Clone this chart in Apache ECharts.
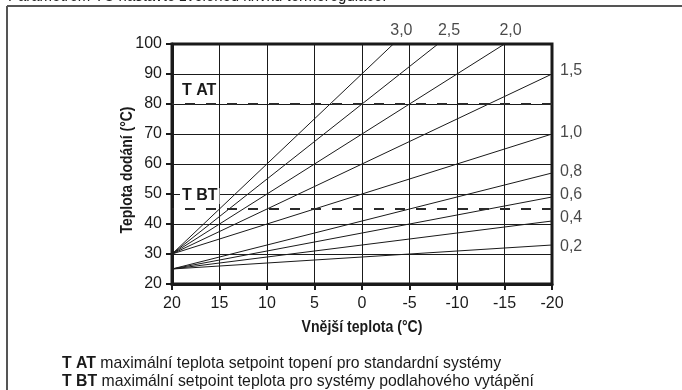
<!DOCTYPE html>
<html>
<head>
<meta charset="utf-8">
<script src="https://cdn.jsdelivr.net/npm/echarts@6/dist/echarts.min.js"></script>
<style>
html,body{margin:0;padding:0;background:#fff;}
#c{width:682px;height:390px;}
</style>
</head>
<body>
<div id="c"></div>
<script>
// ---- data ----
var xTicks = [20, 15, 10, 5, 0, -5, -10, -15, -20];
var yTicks = [20, 30, 40, 50, 60, 70, 80, 90, 100];
var curveNames = ['3,0', '2,5', '2,0', '1,5', '1,0', '0,8', '0,6', '0,4', '0,2'];
var curve30 = [[20, 30], [-3.3, 100]];
var curve25 = [[20, 30], [-8, 100]];
var curve20 = [[20, 30], [-15, 100]];
var curve15 = [[20, 30], [-20, 90]];
var curve10 = [[20, 30], [-20, 70]];
var curve08 = [[20, 25], [-20, 57]];
var curve06 = [[20, 25], [-20, 49]];
var curve04 = [[20, 25], [-20, 41]];
var curve02 = [[20, 25], [-20, 33]];
var tAT = 80;
var tBT = 45;
var titleText = 'Parametrem TC nastavte zvolenou křivku termoregulace.';
var xName = 'Vnější teplota (°C)';
var yName = 'Teplota dodání (°C)';
var noteAT = ['T AT', ' maximální teplota setpoint topení pro standardní systémy'];
var noteBT = ['T BT', ' maximální setpoint teplota pro systémy podlahového vytápění'];

var FONT = "'Liberation Sans', Arial, sans-serif";
var INK = '#1a1a1a';

var curves = [curve30, curve25, curve20, curve15, curve10, curve08, curve06, curve04, curve02];
// label nudges (top-exiting curves get their label above the frame)
var labelOffsets = [[8, 0], [11, 0], [6, 0], [0, -3], [0, -1], [0, -1], [0, -2], [0, -3], [0, 2]];

var series = curves.map(function (d, i) {
  return {
    type: 'line',
    name: curveNames[i],
    data: d,
    symbol: 'none',
    silent: true,
    lineStyle: {color: INK, width: 1},
    z: 3
  };
});

// curve-end labels
series.push({
  type: 'scatter',
  symbolSize: 0,
  silent: true,
  data: curves.map(function (d, i) {
    var end = d[d.length - 1];
    var top = i < 3;
    return {
      value: end,
      label: {
        show: true,
        formatter: curveNames[i],
        position: top ? 'top' : 'right',
        distance: top ? 5 : 8,
        offset: labelOffsets[i],
        color: INK,
        fontFamily: FONT,
        fontSize: 16
      }
    };
  }),
  z: 5
});

series.push({
  type: 'line',
  data: [],
  markLine: {
    silent: true,
    symbol: 'none',
    lineStyle: {type: [10, 11], width: 2, color: '#2a2a2a'},
    label: {
      position: 'insideEndTop',
      fontFamily: FONT,
      fontWeight: 'bold',
      fontSize: 16,
      color: INK,
      backgroundColor: '#fff',
      padding: [0, 2, 0, 2],
      distance: [8, 5]
    },
    data: [
      {yAxis: tAT, label: {formatter: 'T AT'}},
      {yAxis: tBT, label: {formatter: 'T BT'}}
    ]
  },
  z: 4
});

var chart = echarts.init(document.getElementById('c'), null, {renderer: 'canvas'});
chart.setOption({
  animation: false,
  backgroundColor: '#fff',
  grid: {left: 172, right: 130, top: 44, bottom: 106, show: true, borderColor: INK, borderWidth: 3, backgroundColor: 'transparent'},
  xAxis: {
    type: 'value',
    inverse: true,
    min: -20, max: 20, interval: 5,
    axisLine: {show: true, onZero: false, lineStyle: {color: INK, width: 3}},
    axisTick: {show: true, length: 6, lineStyle: {color: INK, width: 2}},
    axisLabel: {color: INK, fontFamily: FONT, fontSize: 16, margin: 12, formatter: function (v) { return xTicks.indexOf(v) >= 0 ? String(v) : ''; }},
    splitLine: {show: true, lineStyle: {color: INK, width: 1}}
  },
  yAxis: {
    type: 'value',
    min: 20, max: 100, interval: 10,
    axisLine: {show: true, onZero: false, lineStyle: {color: INK, width: 3}},
    axisTick: {show: true, length: 6, lineStyle: {color: INK, width: 2}},
    axisLabel: {color: INK, fontFamily: FONT, fontSize: 16, margin: 10, formatter: function (v) { return yTicks.indexOf(v) >= 0 ? String(v) : ''; }},
    splitLine: {show: true, lineStyle: {color: INK, width: 1}}
  },
  graphic: [
    {type: 'line', shape: {x1: 7, y1: 6, x2: 682, y2: 6}, style: {stroke: '#555', lineWidth: 2}},
    {type: 'line', shape: {x1: 7, y1: 6, x2: 7, y2: 390}, style: {stroke: '#555', lineWidth: 2}},
    {type: 'text', x: 8, y: -12, scaleX: 0.88, style: {text: titleText, font: "17px 'Liberation Sans'", fill: '#222'}},
    {type: 'text', x: 362, y: 327, scaleX: 0.83, style: {text: xName, font: "bold 17px " + FONT, fill: INK, textAlign: 'center', textVerticalAlign: 'middle'}},
    {type: 'text', x: 127, y: 170, rotation: Math.PI / 2, scaleX: 0.82, style: {text: yName, font: "bold 17px " + FONT, fill: INK, textAlign: 'center', textVerticalAlign: 'middle'}},
    {type: 'text', x: 62, y: 363, scaleX: 0.93, style: {text: '{b|' + noteAT[0] + '}{r|' + noteAT[1] + '}', textVerticalAlign: 'middle', rich: {b: {font: "bold 17px " + FONT, fill: INK}, r: {font: "17px " + FONT, fill: INK}}}},
    {type: 'text', x: 62, y: 381, scaleX: 0.93, style: {text: '{b|' + noteBT[0] + '}{r|' + noteBT[1] + '}', textVerticalAlign: 'middle', rich: {b: {font: "bold 17px " + FONT, fill: INK}, r: {font: "17px " + FONT, fill: INK}}}}
  ],
  series: series
});
</script>
</body>
</html>
